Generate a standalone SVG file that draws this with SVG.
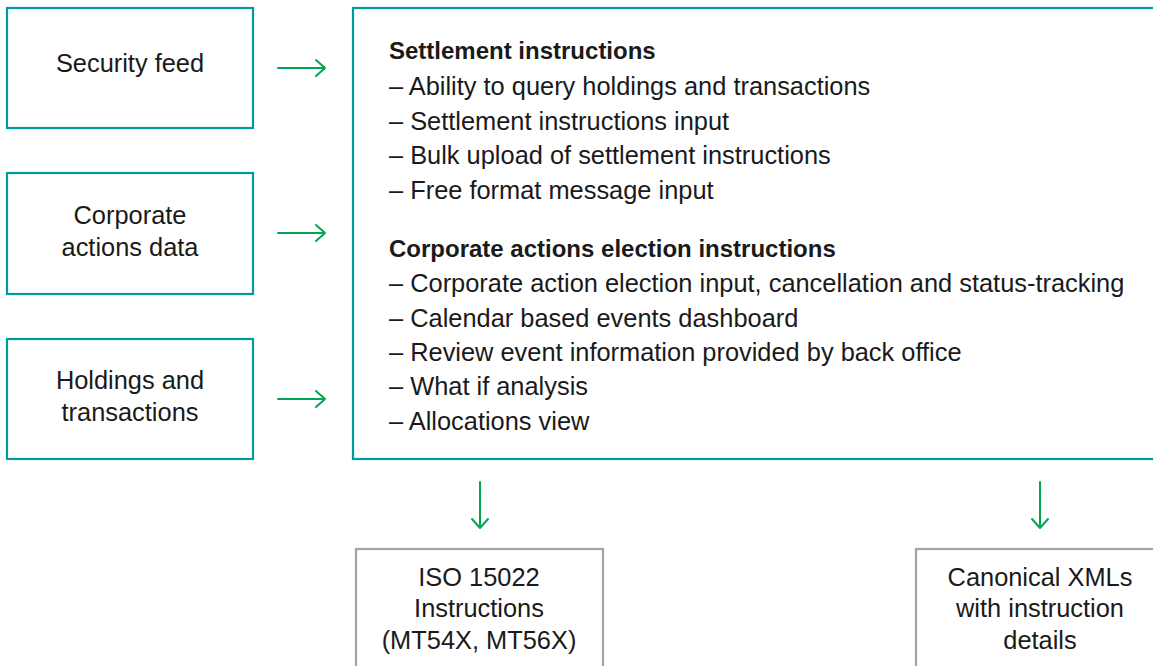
<svg xmlns="http://www.w3.org/2000/svg" width="1153" height="666" viewBox="0 0 1153 666">
<style>
.box{fill:#fff;stroke:#009b9b;stroke-width:2.2}
.gbox{fill:#fff;stroke:#a3a3a3;stroke-width:2.2}
.t{font-family:"Liberation Sans",Arial,sans-serif;font-size:25.4px;fill:#1a1a1a}
.c{text-anchor:middle}
.b{font-weight:bold;font-size:24px}
.arr{fill:none;stroke:#00a651;stroke-width:2;stroke-linecap:round;stroke-linejoin:round}
</style>
<rect width="1153" height="666" fill="#fff"/>
<g id="security-feed"><rect class="box" x="7" y="8" width="246" height="120"/><text class="t c" x="130" y="72">Security feed</text></g>
<g id="corporate-actions-data"><rect class="box" x="7" y="173" width="246" height="121"/><text class="t c" x="130" y="224">Corporate</text><text class="t c" x="130" y="256">actions data</text></g>
<g id="holdings-transactions"><rect class="box" x="7" y="339" width="246" height="120"/><text class="t c" x="130" y="389">Holdings and</text><text class="t c" x="130" y="421">transactions</text></g>
<g id="platform"><rect class="box" x="353" y="8" width="830" height="451"/>
<text class="t b" x="389" y="59">Settlement instructions</text>
<text class="t" x="389" y="95">– Ability to query holdings and transactions</text>
<text class="t" x="389" y="130">– Settlement instructions input</text>
<text class="t" x="389" y="164">– Bulk upload of settlement instructions</text>
<text class="t" x="389" y="199">– Free format message input</text>
<text class="t b" x="389" y="257">Corporate actions election instructions</text>
<text class="t" x="389" y="292">– Corporate action election input, cancellation and status-tracking</text>
<text class="t" x="389" y="327">– Calendar based events dashboard</text>
<text class="t" x="389" y="361">– Review event information provided by back office</text>
<text class="t" x="389" y="395">– What if analysis</text>
<text class="t" x="389" y="430">– Allocations view</text>
</g>
<g id="iso15022"><rect class="gbox" x="356" y="549" width="247" height="140"/><text class="t c" x="479" y="586">ISO 15022</text><text class="t c" x="479" y="617">Instructions</text><text class="t c" x="479" y="649">(MT54X, MT56X)</text></g>
<g id="canonical-xml"><rect class="gbox" x="916" y="549" width="247" height="140"/><text class="t c" x="1040" y="586">Canonical XMLs</text><text class="t c" x="1040" y="617">with instruction</text><text class="t c" x="1040" y="649">details</text></g>
<g id="connectors">
<path class="arr" d="M278 68H325M316 60L325 68L316 76"/>
<path class="arr" d="M278 233H325M316 225L325 233L316 241"/>
<path class="arr" d="M278 399H325M316 391L325 399L316 407"/>
<path class="arr" d="M480 482V528M472 519L480 528L488 519"/>
<path class="arr" d="M1040 482V528M1032 519L1040 528L1048 519"/>
</g>
</svg>
